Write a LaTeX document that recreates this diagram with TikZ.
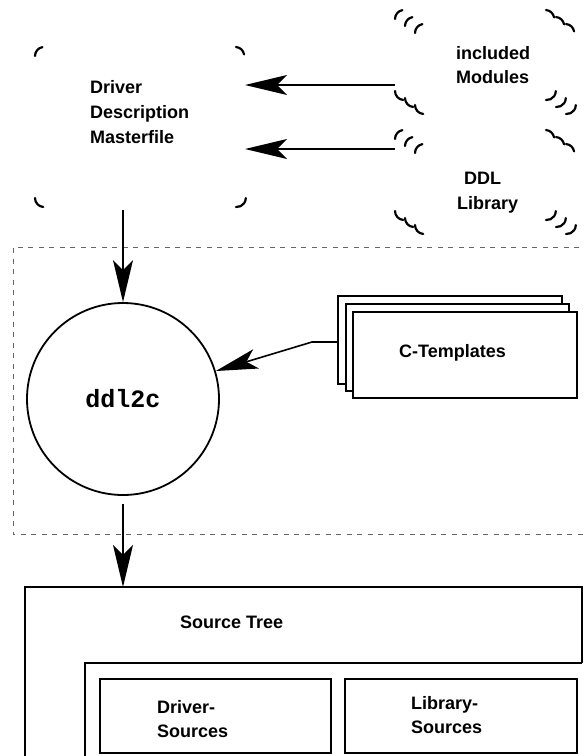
\documentclass[tikz,border=0pt]{standalone}
\usepackage{fontspec}
\setmainfont{Liberation Sans}
\newfontfamily\monob{Liberation Mono}
\usetikzlibrary{arrows.meta,calc}
\newcommand\cmk[4]{%
  \draw[crn] (#1,#2+9) arc[start angle=180, end angle=260, radius=9];
  \draw[crn] (#3-9,#2) arc[start angle=275, end angle=350, radius=9];
  \draw[crn] (#1,#4-9) arc[start angle=180, end angle=95, radius=9];
  \draw[crn] (#3-9,#4) arc[start angle=95, end angle=0, radius=9];}
\begin{document}
\begin{tikzpicture}[x=1pt,y=-1pt,
  lbl/.style={font=\fontsize{18}{22}\selectfont\bfseries, inner sep=0, anchor=base west},
  arr/.style={line width=1.6pt, -{Stealth[length=42pt,width=20pt,inset=10pt]}},
  box/.style={draw, fill=white, line width=1.8pt, inner sep=0, outer sep=0, anchor=north west},
  area/.style={inner sep=0, outer sep=0, anchor=north west},
  crn/.style={line width=2.2pt, line cap=round},
  frame/.style={draw=black!60, line width=1pt, dash pattern=on 5pt off 5.5pt}]
\clip (0,0) rectangle (585,756);
\useasboundingbox (0,0) rectangle (585,756);
% dashed region
\draw[frame] (600,247) -- (13,247) -- (13,534) -- (600,534);
% masterfile
\node[area, minimum width=210pt, minimum height=160pt] (master) at (35,47) {};
\cmk{35}{47}{245}{207}
\node[lbl] (t1) at (90,93) {Driver};
\node[lbl] (t2) at (90,118) {Description};
\node[lbl] (t3) at (90,143) {Masterfile};
% included modules
\node[area, minimum width=160pt, minimum height=90pt] (mod) at (395,10) {};
\foreach \k in {0,1,2} {\cmk{395+10*\k}{10+7*\k}{555+10*\k}{100+7*\k}}
\node[lbl] (t4) at (456,59) {included};
\node[lbl] (t5) at (456,83) {Modules};
% DDL library
\node[area, minimum width=160pt, minimum height=90pt] (lib) at (395,130) {};
\foreach \k in {0,1,2} {\cmk{395+10*\k}{130+7*\k}{555+10*\k}{220+7*\k}}
\node[lbl] (t6) at (464,184) {DDL};
\node[lbl] (t7) at (457,209) {Library};
% arrows into masterfile
\draw[arr] (mod.west |- 0,85) -- (master.east |- 0,85);
\draw[arr] (lib.west |- 0,149) -- (master.east |- 0,149);
% ddl2c
\node[circle, draw, line width=1.8pt, minimum size=192pt, inner sep=0] (ddl) at (123,399)
  {\monob\bfseries\fontsize{25}{25}\selectfont ddl2c};
\draw[arr] ($(ddl.north |- master.south)+(0,3)$) -- (ddl.north);
% C-Templates stack
\node[box, minimum width=224pt, minimum height=88pt] (tb) at (338,296) {};
\node[box, minimum width=223pt, minimum height=87pt] (tm) at (346,304) {};
\node[box, minimum width=224pt, minimum height=86pt] (tf) at (353,312) {};
\node[lbl] (t8) at (399,357) {C-Templates};
\draw[arr] (tb.west |- 0,342) -- ++(-26,0) coordinate (bend) -- (ddl);
% source tree
\node[box, minimum width=557pt, minimum height=200pt] (tree) at (25,587) {};
\node[area, fill=white, minimum width=520pt, minimum height=150pt] (inner) at (85,663) {};
\draw[line width=1.8pt] (inner.south west) -- (inner.north west) -- (inner.north west -| tree.east);
\draw[arr] ($(ddl.south)+(0,8)$) -- (tree.north -| ddl.south);
\node[lbl] (t9) at (180,628) {Source Tree};
\node[box, minimum width=231pt, minimum height=74pt] (drv) at (100,679) {};
\node[box, minimum width=232pt, minimum height=74pt] (lsrc) at (345,679) {};
\node[lbl] (t10) at (157,713) {Driver-};
\node[lbl] (t11) at (157,737) {Sources};
\node[lbl] (t12) at (411,709) {Library-};
\node[lbl] (t13) at (411,733) {Sources};
\end{tikzpicture}
\end{document}
